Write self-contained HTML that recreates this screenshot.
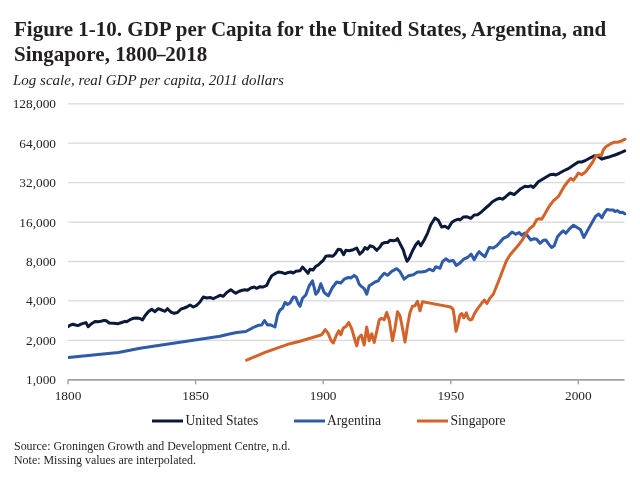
<!DOCTYPE html>
<html><head><meta charset="utf-8"><style>
html,body{margin:0;padding:0;background:#fff;width:640px;height:480px;overflow:hidden;}
body{position:relative;-webkit-font-smoothing:antialiased;filter:blur(0.3px);font-family:"Liberation Serif",serif;color:#231f20;}
.t{position:absolute;white-space:nowrap;will-change:transform;}
#title{left:14px;top:16.9px;font-size:21px;font-weight:bold;line-height:25px;color:#231f20;}
#sub{left:13px;top:72.3px;font-size:15px;font-style:italic;line-height:17px;color:#231f20;}
#src{left:13.5px;top:438.6px;font-size:11.95px;line-height:14px;color:#231f20;}
svg{position:absolute;left:0;top:0;will-change:transform;}
svg text{font-family:"Liberation Serif",serif;font-size:13.33px;fill:#231f20;}
svg text.lg{font-size:13.6px;}
</style></head><body>
<div class="t" id="title">Figure 1-10. GDP per Capita for the United States, Argentina, and<br>Singapore, 1800<span style="display:inline-block;transform:scaleX(0.82);margin:0 -1.2px">&#8211;</span>2018</div>
<div class="t" id="sub">Log scale, real GDP per capita, 2011 dollars</div>
<svg width="640" height="480" viewBox="0 0 640 480">
<line x1="68" y1="340.37" x2="624.5" y2="340.37" stroke="#d9d9d9" stroke-width="1.3"/>
<line x1="68" y1="300.94" x2="624.5" y2="300.94" stroke="#d9d9d9" stroke-width="1.3"/>
<line x1="68" y1="261.51" x2="624.5" y2="261.51" stroke="#d9d9d9" stroke-width="1.3"/>
<line x1="68" y1="222.08" x2="624.5" y2="222.08" stroke="#d9d9d9" stroke-width="1.3"/>
<line x1="68" y1="182.65" x2="624.5" y2="182.65" stroke="#d9d9d9" stroke-width="1.3"/>
<line x1="68" y1="143.22" x2="624.5" y2="143.22" stroke="#d9d9d9" stroke-width="1.3"/>
<line x1="68" y1="103.79" x2="624.5" y2="103.79" stroke="#d9d9d9" stroke-width="1.3"/>

<line x1="68" y1="379.80" x2="624.5" y2="379.80" stroke="#a0a0a0" stroke-width="1.8"/>
<line x1="68.00" y1="379.80" x2="68.00" y2="384.30" stroke="#a0a0a0" stroke-width="1.4"/>
<line x1="195.58" y1="379.80" x2="195.58" y2="384.30" stroke="#a0a0a0" stroke-width="1.4"/>
<line x1="323.16" y1="379.80" x2="323.16" y2="384.30" stroke="#a0a0a0" stroke-width="1.4"/>
<line x1="450.74" y1="379.80" x2="450.74" y2="384.30" stroke="#a0a0a0" stroke-width="1.4"/>
<line x1="578.32" y1="379.80" x2="578.32" y2="384.30" stroke="#a0a0a0" stroke-width="1.4"/>

<text x="56" y="384.30" text-anchor="end">1,000</text>
<text x="56" y="344.87" text-anchor="end">2,000</text>
<text x="56" y="305.44" text-anchor="end">4,000</text>
<text x="56" y="266.01" text-anchor="end">8,000</text>
<text x="56" y="226.58" text-anchor="end">16,000</text>
<text x="56" y="187.15" text-anchor="end">32,000</text>
<text x="56" y="147.72" text-anchor="end">64,000</text>
<text x="56" y="108.29" text-anchor="end">128,000</text>

<text x="68.00" y="399.5" text-anchor="middle">1800</text>
<text x="195.58" y="399.5" text-anchor="middle">1850</text>
<text x="323.16" y="399.5" text-anchor="middle">1900</text>
<text x="450.74" y="399.5" text-anchor="middle">1950</text>
<text x="578.32" y="399.5" text-anchor="middle">2000</text>

<defs><clipPath id="pc"><rect x="68" y="90" width="572" height="300"/></clipPath></defs>
<g fill="none" stroke-width="3" stroke-linejoin="round" stroke-linecap="round" clip-path="url(#pc)">
<path d="M67.0,326.9 L68.2,326.6 L69.8,325.4 L72.9,324.2 L75.4,325.0 L77.9,325.6 L81.0,324.2 L84.1,323.1 L86.0,322.6 L88.2,326.7 L89.8,325.1 L92.2,323.2 L95.4,321.4 L97.9,321.7 L101.0,321.2 L104.1,320.4 L106.5,320.8 L109.2,323.0 L113.3,323.3 L118.3,323.7 L121.7,322.5 L125.0,321.3 L126.7,321.7 L130.0,319.7 L133.3,318.3 L136.7,318.0 L140.0,318.5 L142.5,320.0 L145.0,315.8 L148.3,311.7 L151.7,309.2 L155.0,311.7 L158.3,308.7 L161.7,310.0 L165.0,311.3 L167.5,308.7 L170.8,312.0 L174.2,313.3 L177.5,312.5 L180.8,309.2 L184.2,308.0 L186.7,307.0 L190.0,305.0 L193.3,307.0 L196.7,305.3 L200.0,302.0 L203.3,297.0 L206.7,298.0 L210.0,297.5 L213.3,298.7 L216.7,297.0 L220.0,295.3 L223.3,296.3 L226.7,292.5 L230.8,289.7 L233.3,291.7 L235.8,293.3 L239.2,291.3 L242.5,290.3 L245.0,289.7 L247.5,290.3 L250.8,288.0 L254.2,287.0 L256.7,288.3 L260.0,286.7 L263.3,287.0 L266.7,285.3 L269.2,280.0 L271.7,275.8 L275.0,273.7 L278.3,272.0 L281.7,272.5 L285.0,273.7 L288.3,272.5 L290.8,272.0 L293.3,273.0 L295.8,271.3 L300.0,270.8 L302.5,267.0 L305.0,269.7 L308.0,273.3 L310.0,269.2 L313.0,270.0 L315.8,266.3 L318.3,265.0 L320.8,262.5 L323.3,260.3 L325.8,256.3 L329.2,255.8 L332.5,256.3 L335.0,254.2 L338.3,249.2 L340.8,249.7 L343.7,254.7 L345.8,250.3 L349.2,250.8 L353.3,249.7 L356.7,248.0 L359.7,254.2 L362.5,251.7 L365.0,247.5 L367.5,249.2 L370.0,245.8 L373.3,246.7 L376.7,250.3 L380.0,247.0 L382.0,243.7 L385.0,242.5 L387.5,242.5 L390.0,240.3 L393.3,240.8 L395.8,240.3 L397.5,238.7 L400.0,243.7 L403.3,250.0 L405.0,255.8 L407.0,261.3 L409.2,258.3 L412.5,250.8 L415.8,244.7 L418.3,241.7 L420.8,245.8 L424.2,240.0 L427.5,233.3 L430.8,224.7 L435.0,218.0 L438.3,220.3 L441.7,227.0 L445.0,226.3 L448.3,228.3 L451.7,222.5 L455.0,220.3 L458.3,219.2 L460.0,220.0 L463.3,217.0 L466.7,216.7 L470.8,218.3 L474.2,215.0 L477.5,214.7 L480.8,212.5 L485.0,208.7 L489.2,205.0 L492.5,201.7 L496.7,199.2 L500.0,198.3 L502.5,199.2 L505.8,196.7 L510.0,193.0 L514.2,194.5 L517.5,191.7 L520.8,188.7 L525.0,186.3 L528.3,186.7 L530.8,185.8 L533.3,187.5 L535.8,184.7 L538.3,181.7 L542.5,179.2 L546.7,176.7 L550.0,174.7 L553.3,174.2 L555.8,175.0 L559.2,173.3 L563.3,171.0 L568.3,168.7 L573.3,165.3 L578.3,162.0 L581.7,162.0 L585.8,160.3 L590.0,158.0 L594.2,155.8 L597.5,155.8 L601.7,159.2 L605.0,158.0 L610.0,156.7 L615.0,155.0 L620.0,153.0 L624.7,150.8" stroke="#0c1a3a"/>
<path d="M66.0,357.5 L68.3,357.4 L93.3,355.0 L118.3,352.5 L130.0,350.3 L140.0,348.3 L220.0,336.3 L228.3,334.2 L236.7,332.5 L245.8,331.5 L253.3,327.5 L258.3,325.3 L261.7,325.0 L264.5,320.5 L267.5,325.0 L270.0,324.7 L275.0,327.0 L277.5,315.0 L280.0,310.0 L282.5,308.3 L285.0,302.5 L287.5,304.5 L290.0,303.0 L293.3,297.0 L295.8,297.5 L298.3,303.7 L300.0,306.3 L302.5,298.3 L305.8,295.0 L309.2,285.8 L312.5,280.8 L315.8,294.2 L318.3,291.3 L320.8,283.7 L324.2,292.5 L328.3,295.8 L332.5,287.5 L336.7,282.0 L340.8,283.0 L344.2,279.2 L348.3,277.5 L350.8,278.0 L354.2,275.3 L356.7,277.5 L359.2,284.2 L361.7,286.7 L364.2,288.7 L366.7,294.2 L369.2,285.8 L371.7,284.2 L375.0,282.0 L378.3,280.8 L380.0,278.0 L384.2,273.3 L387.5,275.3 L391.7,271.3 L396.7,268.7 L400.0,271.7 L404.2,279.2 L408.3,275.8 L413.3,274.7 L417.5,272.0 L421.7,272.0 L425.8,271.3 L429.2,269.2 L433.3,270.8 L435.8,266.7 L440.0,268.3 L442.5,261.7 L445.8,258.8 L449.2,261.2 L453.3,260.4 L456.2,265.4 L460.0,262.9 L464.2,258.8 L467.5,257.5 L471.2,254.2 L474.2,259.8 L476.7,255.0 L479.2,251.7 L481.7,254.2 L485.0,256.7 L489.2,247.5 L493.3,248.0 L496.7,245.8 L500.0,242.3 L503.3,238.3 L507.5,236.3 L512.0,232.0 L515.8,234.2 L519.2,232.5 L521.7,235.3 L525.0,233.0 L527.5,235.8 L530.8,240.0 L534.2,238.7 L536.7,239.2 L540.0,243.3 L543.3,240.3 L545.8,240.0 L549.2,244.7 L551.7,247.5 L554.2,245.8 L557.5,236.7 L560.8,233.0 L563.3,230.8 L565.8,233.3 L569.2,229.2 L573.5,225.2 L577.5,227.8 L580.6,229.8 L583.8,237.5 L587.5,230.6 L591.9,222.8 L595.6,216.2 L598.8,214.0 L601.9,217.8 L603.8,213.8 L606.9,209.4 L610.0,210.0 L613.1,210.0 L615.0,211.5 L617.5,210.6 L620.0,212.5 L622.5,212.2 L624.8,213.8" stroke="#2f5ba8"/>
<path d="M246.6,360.2 L265.0,352.4 L290.0,343.7 L300.0,341.3 L321.7,334.7 L325.3,329.7 L328.3,333.7 L330.8,340.0 L333.3,343.0 L335.8,336.7 L338.7,330.8 L340.8,334.7 L343.3,328.0 L345.8,326.7 L348.7,322.5 L351.7,328.7 L354.2,337.5 L356.7,345.8 L358.7,337.5 L361.3,335.0 L364.2,345.0 L366.7,327.0 L369.2,340.8 L371.7,333.7 L374.2,342.5 L376.7,331.7 L379.2,320.0 L381.3,318.3 L384.2,319.7 L386.7,312.5 L389.2,320.0 L390.8,330.0 L392.5,340.8 L395.0,328.3 L397.5,311.7 L400.0,315.8 L402.5,328.3 L405.0,342.0 L407.5,325.8 L410.0,312.5 L412.5,306.3 L415.0,305.8 L417.5,301.3 L420.0,310.8 L422.5,301.7 L430.0,303.1 L450.6,306.9 L453.1,309.4 L454.4,317.5 L456.0,331.3 L458.1,323.8 L460.0,315.0 L461.9,313.5 L463.8,317.8 L466.3,312.8 L468.1,318.1 L470.0,320.0 L471.9,319.4 L474.4,313.8 L477.5,308.8 L481.3,303.8 L484.4,300.0 L486.9,303.5 L490.0,298.1 L493.3,294.2 L496.7,285.8 L500.0,277.5 L503.3,268.7 L506.7,260.3 L510.0,255.0 L514.2,250.0 L518.3,245.3 L522.5,239.7 L526.7,232.5 L530.0,228.3 L533.3,225.8 L536.7,219.7 L539.2,218.7 L541.7,219.2 L545.0,213.7 L549.2,206.3 L553.3,200.8 L558.3,196.7 L561.7,190.8 L564.2,186.5 L567.5,182.0 L570.8,178.3 L573.3,180.3 L576.7,175.8 L578.3,173.0 L581.7,174.7 L585.8,171.7 L589.2,167.0 L592.5,162.5 L595.8,155.8 L599.2,155.0 L601.3,155.8 L603.3,150.0 L605.8,146.7 L610.0,144.2 L614.2,142.2 L618.3,142.0 L621.7,140.8 L625.0,139.2" stroke="#d1632b"/>
</g>
<g stroke-width="3">
<line x1="152" y1="421" x2="183" y2="421" stroke="#0c1a3a"/>
<line x1="294" y1="421" x2="325" y2="421" stroke="#2f5ba8"/>
<line x1="417" y1="421" x2="448" y2="421" stroke="#d1632b"/>
</g>
<text class="lg" x="185.5" y="425.2">United States</text>
<text class="lg" x="327" y="425.2">Argentina</text>
<text class="lg" x="450.5" y="425.2">Singapore</text>
</svg>
<div class="t" id="src">Source: Groningen Growth and Development Centre, n.d.<br>Note: Missing values are interpolated.</div>
</body></html>
